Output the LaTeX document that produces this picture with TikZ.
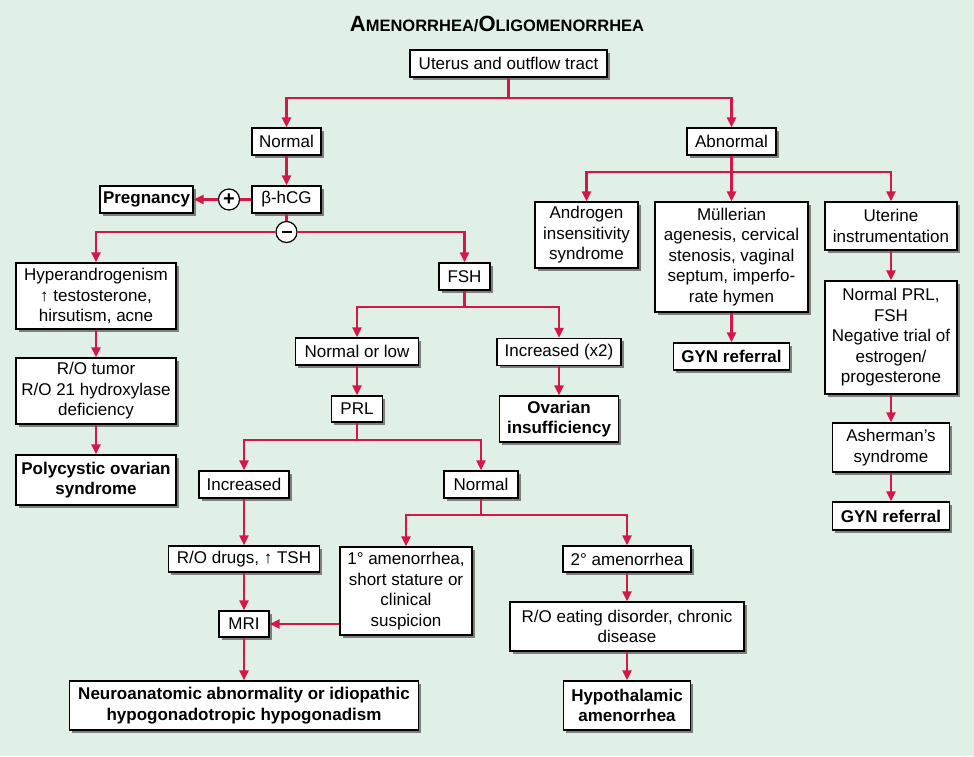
\documentclass[tikz,border=0pt]{standalone}
\usepackage{fontspec}
\setmainfont{Liberation Sans}
\usetikzlibrary{arrows.meta,shadows}
\definecolor{bgc}{RGB}{224,240,231}
\definecolor{linec}{RGB}{214,22,72}
\tikzset{
  box/.style={draw=black, line width=1.2pt, fill=white, align=center, inner sep=0pt,
    font=\fontsize{17}{20.5}\selectfont,
    drop shadow={shadow xshift=2.5pt, shadow yshift=-2.5pt, fill=black!55, opacity=0.9}},
  bbox/.style={box, font=\fontsize{17}{20.5}\selectfont\bfseries},
  sign/.style={circle, draw=black, line width=1.2pt, fill=white, minimum size=21pt, inner sep=0pt},
  conn/.style={draw=linec, line width=2.4pt},
  arr/.style={conn, -{Triangle[length=10pt,width=9pt]}},
}
\begin{document}
\begin{tikzpicture}[x=1pt,y=-1pt]
\fill[bgc] (0,0) rectangle (974,756);
\useasboundingbox (0,0) rectangle (974,756);

\node (title) at (497,24) {\bfseries\fontsize{22}{22}\selectfont A\fontsize{16.5}{16.5}\selectfont MENORRHEA/\fontsize{22}{22}\selectfont O\fontsize{16.5}{16.5}\selectfont LIGOMENORRHEA};

\node[box, minimum width=197pt, minimum height=27pt] (uterus) at (508.5,63.5) {Uterus and outflow tract};
\node[box, minimum width=69pt, minimum height=27pt] (normal) at (286.5,141.5) {Normal};
\node[box, minimum width=89pt, minimum height=27pt] (abnormal) at (731.5,141.5) {Abnormal};
\node[box, minimum width=69pt, minimum height=27pt] (hcg) at (286.5,199.5) {β-hCG};
\node[bbox, minimum width=93pt, minimum height=27pt] (preg) at (146.5,199.5) {Pregnancy};
\node[sign] (plus) at (229,199.5) {\fontsize{20}{20}\selectfont\bfseries +};
\node[sign] (minus) at (286.5,232) {\rule[-1.2pt]{10pt}{2.6pt}};

\node[box, minimum width=160pt, minimum height=66pt] (hyper) at (96,296) {Hyperandrogenism\\↑ testosterone,\\hirsutism, acne};
\node[box, minimum width=160pt, minimum height=66pt] (rotumor) at (96,391) {R/O tumor\\R/O 21 hydroxylase\\deficiency};
\node[bbox, minimum width=160pt, minimum height=50pt] (pcos) at (96,480) {Polycystic ovarian\\syndrome};

\node[box, minimum width=51pt, minimum height=27pt] (fsh) at (464.5,276.5) {FSH};
\node[box, minimum width=123pt, minimum height=27pt] (normlow) at (357,351.5) {Normal or low};
\node[box, minimum width=124pt, minimum height=27pt] (incx) at (559,352) {Increased (x2)};
\node[bbox, minimum width=119pt, minimum height=46pt] (ovarian) at (559,419) {Ovarian\\insufficiency};
\node[box, minimum width=51pt, minimum height=26pt] (prl) at (357,409) {PRL};
\node[box, minimum width=90pt, minimum height=27pt] (incr) at (244,484.5) {Increased};
\node[box, minimum width=74pt, minimum height=27pt] (normal2) at (481,484.5) {Normal};
\node[box, minimum width=151pt, minimum height=26pt] (rodrugs) at (244,559) {R/O drugs, ↑ TSH};
\node[box, minimum width=50pt, minimum height=26pt] (mri) at (244,624) {MRI};
\node[box, minimum width=132pt, minimum height=88pt] (prim) at (406,591) {1° amenorrhea,\\short stature or\\clinical\\suspicion};
\node[box, minimum width=128pt, minimum height=26pt] (sec) at (627,559) {2° amenorrhea};
\node[box, minimum width=234pt, minimum height=49pt] (roeat) at (627,626.5) {R/O eating disorder, chronic\\disease};
\node[bbox, minimum width=127pt, minimum height=49pt] (hypoth) at (627,705.5) {Hypothalamic\\amenorrhea};
\node[bbox, minimum width=349pt, minimum height=49pt] (neuro) at (244,705.5) {Neuroanatomic abnormality or idiopathic\\hypogonadotropic hypogonadism};

\node[box, minimum width=103pt, minimum height=66pt] (androgen) at (586.5,235) {Androgen\\insensitivity\\syndrome};
\node[box, minimum width=153pt, minimum height=110pt] (mullerian) at (731.5,257) {Müllerian\\agenesis, cervical\\stenosis, vaginal\\septum, imperfo-\\rate hymen};
\node[box, minimum width=132pt, minimum height=48pt] (uterine) at (891,226) {Uterine\\instrumentation};
\node[bbox, minimum width=116pt, minimum height=27pt] (gyn1) at (731.5,356.5) {GYN referral};
\node[box, minimum width=132pt, minimum height=113pt] (normprl) at (891,337.5) {Normal PRL,\\FSH\\Negative trial of\\estrogen/\\progesterone};
\node[box, minimum width=117pt, minimum height=49pt] (asherman) at (891,447.5) {Asherman’s\\syndrome};
\node[bbox, minimum width=117pt, minimum height=28pt] (gyn2) at (891,516) {GYN referral};

\coordinate (j1) at (uterus.south |- 0,98);
\coordinate (j2) at (fsh.south |- 0,307);
\coordinate (j3) at (prl.south |- 0,440);
\coordinate (j4) at (normal2.south |- 0,515);
\coordinate (j5) at (abnormal.south |- 0,172);

\draw[conn] (uterus.south) -- (j1);
\draw[arr] (j1) -| (normal.north);
\draw[arr] (j1) -| (abnormal.north);
\draw[arr] (normal) -- (hcg);
\draw[conn] (hcg.west) -- (plus.east);
\draw[arr] (plus.west) -- (preg.east);
\draw[conn] (hcg.south) -- (minus.north);
\draw[arr] (minus.west) -| (hyper.north);
\draw[arr] (minus.east) -| (fsh.north);
\draw[arr] (hyper) -- (rotumor);
\draw[arr] (rotumor) -- (pcos);
\draw[conn] (fsh.south) -- (j2);
\draw[arr] (j2) -| (normlow.north);
\draw[arr] (j2) -| (incx.north);
\draw[arr] (normlow) -- (prl);
\draw[arr] (incx) -- (ovarian);
\draw[conn] (prl.south) -- (j3);
\draw[arr] (j3) -| (incr.north);
\draw[arr] (j3) -| (normal2.north);
\draw[arr] (incr) -- (rodrugs);
\draw[arr] (rodrugs) -- (mri);
\draw[arr] (mri) -- (neuro);
\draw[conn] (normal2.south) -- (j4);
\draw[arr] (j4) -| (prim.north);
\draw[arr] (j4) -| (sec.north);
\draw[arr] (prim.west |- mri.east) -- (mri.east);
\draw[arr] (sec) -- (roeat);
\draw[arr] (roeat) -- (hypoth);
\draw[conn] (abnormal.south) -- (j5);
\draw[arr] (j5) -| (androgen.north);
\draw[arr] (j5) -- (mullerian.north);
\draw[arr] (j5) -| (uterine.north);
\draw[arr] (mullerian) -- (gyn1);
\draw[arr] (uterine) -- (normprl);
\draw[arr] (normprl) -- (asherman);
\draw[arr] (asherman) -- (gyn2);
\end{tikzpicture}
\end{document}
